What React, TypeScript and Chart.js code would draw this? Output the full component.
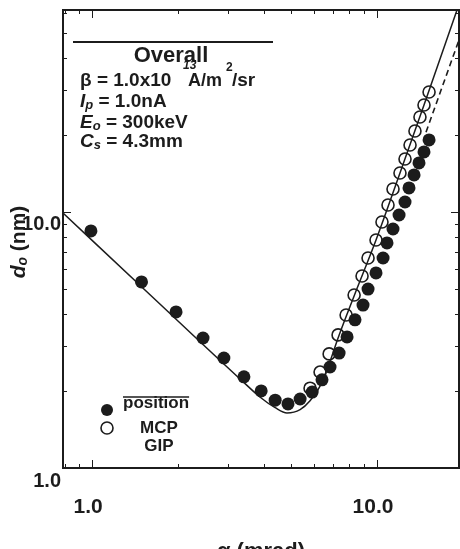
import React, { useEffect, useRef } from "react";
import { Chart, registerables } from "chart.js";
Chart.register(...registerables);

const W = 460;
const H = 575;
const INK = "#1c1c1c";
const FAM = "'Liberation Sans', Arial, Helvetica, sans-serif";

// data (alpha in mrad, d0 in nm)
const filledX = [0.99, 1.49, 1.97, 2.45, 2.9, 3.41, 3.92, 4.39, 4.87, 5.37, 5.92, 6.41, 6.84, 7.36, 7.85, 8.37, 8.93, 9.3, 9.92, 10.5, 10.84, 11.38, 11.95, 12.54, 12.95, 13.49, 14.04, 14.62, 15.23];
const filledY = [8.43, 5.33, 4.07, 3.22, 2.69, 2.27, 2.0, 1.84, 1.78, 1.86, 1.98, 2.21, 2.48, 2.81, 3.25, 3.79, 4.33, 5.0, 5.78, 6.61, 7.57, 8.58, 9.73, 10.94, 12.41, 13.95, 15.54, 17.16, 19.11];
const openX = [5.82, 6.31, 6.79, 7.3, 7.79, 8.31, 8.86, 9.3, 9.92, 10.41, 10.93, 11.38, 12.04, 12.54, 13.06, 13.59, 14.15, 14.62, 15.23];
const openY = [2.05, 2.37, 2.79, 3.31, 3.96, 4.74, 5.62, 6.61, 7.77, 9.14, 10.65, 12.3, 14.2, 16.11, 18.27, 20.72, 23.5, 26.18, 29.43];
const curveX = [0.79, 1.6, 3.39, 3.89, 4.39, 4.83, 5.37, 5.82, 6.31, 6.79, 7.3, 8.31, 9.92, 12.04, 14.62, 19.09];
const curveY = [9.9, 4.74, 2.17, 1.89, 1.72, 1.64, 1.69, 1.83, 2.09, 2.55, 3.22, 4.7, 7.77, 14.2, 26.2, 61.5];
const dashX = [14.86, 19.4];
const dashY = [20.5, 47.0];

const xTickValues = [1, 10];
const yTickValues = [1, 10];
const xMin = 0.79;
const xMax = 19.4;
const yMin = 1.0;
const yMax = 61.5;
const xMinorTicks = [0.8, 0.9, 1, 2, 3, 4, 5, 6, 7, 8, 9, 10];
const yMinorTicks = [2, 3, 4, 5, 6, 7, 8, 9, 10, 20, 30, 40, 50, 60];

type Part = { t: string; font: string; dy?: number; x?: number };

function drawRuns(c: CanvasRenderingContext2D, x: number, y: number, parts: Part[]) {
  let cx = x;
  for (const p of parts) {
    c.font = p.font;
    const px = p.x !== undefined ? p.x : cx;
    c.fillText(p.t, px, y + (p.dy || 0));
    cx = px + c.measureText(p.t).width;
  }
}

function runsWidth(c: CanvasRenderingContext2D, parts: Part[]) {
  let w = 0;
  for (const p of parts) {
    c.font = p.font;
    w += c.measureText(p.t).width;
  }
  return w;
}

const zeroPad = (s: any) => {
  s.paddingTop = 0;
  s.paddingBottom = 0;
  s.paddingLeft = 0;
  s.paddingRight = 0;
};

const App = () => {
  const ref = useRef<HTMLCanvasElement>(null);
  useEffect(() => {
    document.body.style.margin = "0";
    const canvas = ref.current!;
    const pts = (xs: number[], ys: number[]) => xs.map((x, i) => ({ x, y: ys[i] }));

    const overlay = {
      id: "overlay",
      afterDraw(chart: any) {
        const c: CanvasRenderingContext2D = chart.ctx;
        const a = chart.chartArea;
        const sx = chart.scales.x;
        const sy = chart.scales.y;
        const L = a.left, T = a.top, B = a.bottom;
        c.save();
        c.strokeStyle = INK;
        c.fillStyle = INK;
        // frame
        c.lineWidth = 2;
        c.strokeRect(a.left, a.top, a.right - a.left, a.bottom - a.top);
        // inward ticks
        c.lineWidth = 1;
        c.beginPath();
        for (const v of xMinorTicks) {
          const px = Math.round(sx.getPixelForValue(v)) + 0.5;
          const len = v === 1 || v === 10 ? 8 : 4;
          c.moveTo(px, a.top); c.lineTo(px, a.top + len);
          c.moveTo(px, a.bottom); c.lineTo(px, a.bottom - len);
        }
        for (const v of yMinorTicks) {
          const py = Math.round(sy.getPixelForValue(v)) + 0.5;
          const len = v === 10 ? 8 : 4;
          c.moveTo(a.left, py); c.lineTo(a.left + len, py);
          c.moveTo(a.right, py); c.lineTo(a.right - len, py);
        }
        c.stroke();

        // annotation block
        c.lineWidth = 2;
        c.beginPath();
        c.moveTo(L + 10, T + 32);
        c.lineTo(L + 210, T + 32);
        c.stroke();
        c.textBaseline = "alphabetic";
        c.textAlign = "center";
        c.font = `bold 22px ${FAM}`;
        c.fillText("Overall", L + 108, T + 52);
        c.textAlign = "left";
        const big = `bold 19px ${FAM}`;
        const bigI = `italic bold 19px ${FAM}`;
        const sub = `italic bold 13px ${FAM}`;
        drawRuns(c, L + 17, T + 76, [
          { t: "β = 1.0x10", font: big },
          { t: "13", font: `italic bold 12px ${FAM}`, dy: -17, x: L + 120 },
          { t: "A/m", font: `bold 18px ${FAM}`, x: L + 125 },
          { t: "2", font: `bold 12px ${FAM}`, dy: -15, x: L + 163 },
          { t: "/sr", font: big, x: L + 169 },
        ]);
        drawRuns(c, L + 17, T + 97, [
          { t: "I", font: bigI },
          { t: "p", font: sub, dy: 2 },
          { t: " = 1.0nA", font: big },
        ]);
        drawRuns(c, L + 17, T + 118, [
          { t: "E", font: bigI },
          { t: "o", font: sub, dy: 2 },
          { t: " = 300keV", font: big },
        ]);
        drawRuns(c, L + 17, T + 137, [
          { t: "C", font: bigI },
          { t: "s", font: sub, dy: 2 },
          { t: " = 4.3mm", font: big },
        ]);

        // legend
        c.beginPath();
        c.arc(L + 44, B - 58, 6, 0, Math.PI * 2);
        c.fill();
        c.lineWidth = 1.6;
        c.beginPath();
        c.arc(L + 44, B - 40, 6, 0, Math.PI * 2);
        c.stroke();
        c.font = `bold 17px ${FAM}`;
        c.fillText("position", L + 60, B - 60);
        const pw = c.measureText("position").width;
        c.lineWidth = 1.5;
        c.beginPath();
        c.moveTo(L + 60, B - 71);
        c.lineTo(L + 60 + pw, B - 71);
        c.stroke();
        c.textAlign = "center";
        c.fillText("MCP", L + 96, B - 35);
        c.fillText("GIP", L + 96, B - 17);

        // y-axis title
        c.translate(19, (a.top + a.bottom) / 2 + 3);
        c.rotate(-Math.PI / 2);
        c.textAlign = "left";
        c.textBaseline = "middle";
        const tparts: Part[] = [
          { t: "d", font: `italic bold 21px ${FAM}` },
          { t: "o", font: `italic bold 14px ${FAM}`, dy: 4 },
          { t: " (nm)", font: `bold 21px ${FAM}` },
        ];
        const tw = runsWidth(c, tparts);
        drawRuns(c, -tw / 2, 0, tparts);
        c.restore();
      },
    };

    const chart = new Chart(canvas, {
      type: "scatter",
      data: {
        datasets: [
          {
            data: pts(curveX, curveY),
            showLine: true,
            borderColor: INK,
            borderWidth: 1.5,
            pointRadius: 0,
            cubicInterpolationMode: "monotone",
            fill: false,
          },
          {
            data: pts(dashX, dashY),
            showLine: true,
            borderColor: INK,
            borderWidth: 1.6,
            borderDash: [6, 4],
            pointRadius: 0,
            fill: false,
          },
          {
            data: pts(filledX, filledY),
            pointRadius: 6.5,
            pointBackgroundColor: INK,
            pointBorderColor: INK,
            pointBorderWidth: 0,
          },
          {
            data: pts(openX, openY),
            pointRadius: 6,
            pointBackgroundColor: "rgba(0,0,0,0)",
            pointBorderColor: INK,
            pointBorderWidth: 1.6,
          },
        ],
      } as any,
      options: {
        animation: false,
        responsive: false,
        devicePixelRatio: 1,
        layout: { autoPadding: false, padding: { top: 10, right: 1, left: 0, bottom: 0 } },
        plugins: { legend: { display: false }, tooltip: { enabled: false } },
        scales: {
          x: {
            type: "logarithmic",
            position: "bottom",
            min: xMin,
            max: xMax,
            grid: { display: false, drawTicks: false },
            border: { display: false },
            afterBuildTicks: (s: any) => {
              s.ticks = xTickValues.map((value) => ({ value }));
            },
            afterFit: (s: any) => {
              s.height = H - 468;
              zeroPad(s);
            },
            ticks: {
              autoSkip: false,
              maxRotation: 0,
              padding: 27,
              labelOffset: -4,
              color: INK,
              font: { family: FAM, size: 21, weight: "bold" },
              callback: (v: any) => Number(v).toFixed(1),
            },
            title: {
              display: true,
              text: "α (mrad)",
              color: INK,
              font: { family: FAM, size: 22, weight: "bold" },
              padding: { top: 0, bottom: 10 },
            },
          },
          y: {
            type: "logarithmic",
            position: "left",
            min: yMin,
            max: yMax,
            grid: { display: false, drawTicks: false },
            border: { display: false },
            afterBuildTicks: (s: any) => {
              s.ticks = yTickValues.map((value) => ({ value }));
            },
            afterFit: (s: any) => {
              s.width = 63;
              zeroPad(s);
            },
            ticks: {
              autoSkip: false,
              padding: 2,
              labelOffset: 13,
              color: INK,
              font: { family: FAM, size: 20, weight: "bold" },
              callback: (v: any) => Number(v).toFixed(1),
            },
          },
        },
      } as any,
      plugins: [overlay],
    });
    return () => chart.destroy();
  }, []);

  return (
    <div style={{ width: W, height: 549, overflow: "hidden", position: "relative", background: "#fff" }}>
      <canvas ref={ref} width={W} height={H} style={{ display: "block" }} />
    </div>
  );
};

export default App;
